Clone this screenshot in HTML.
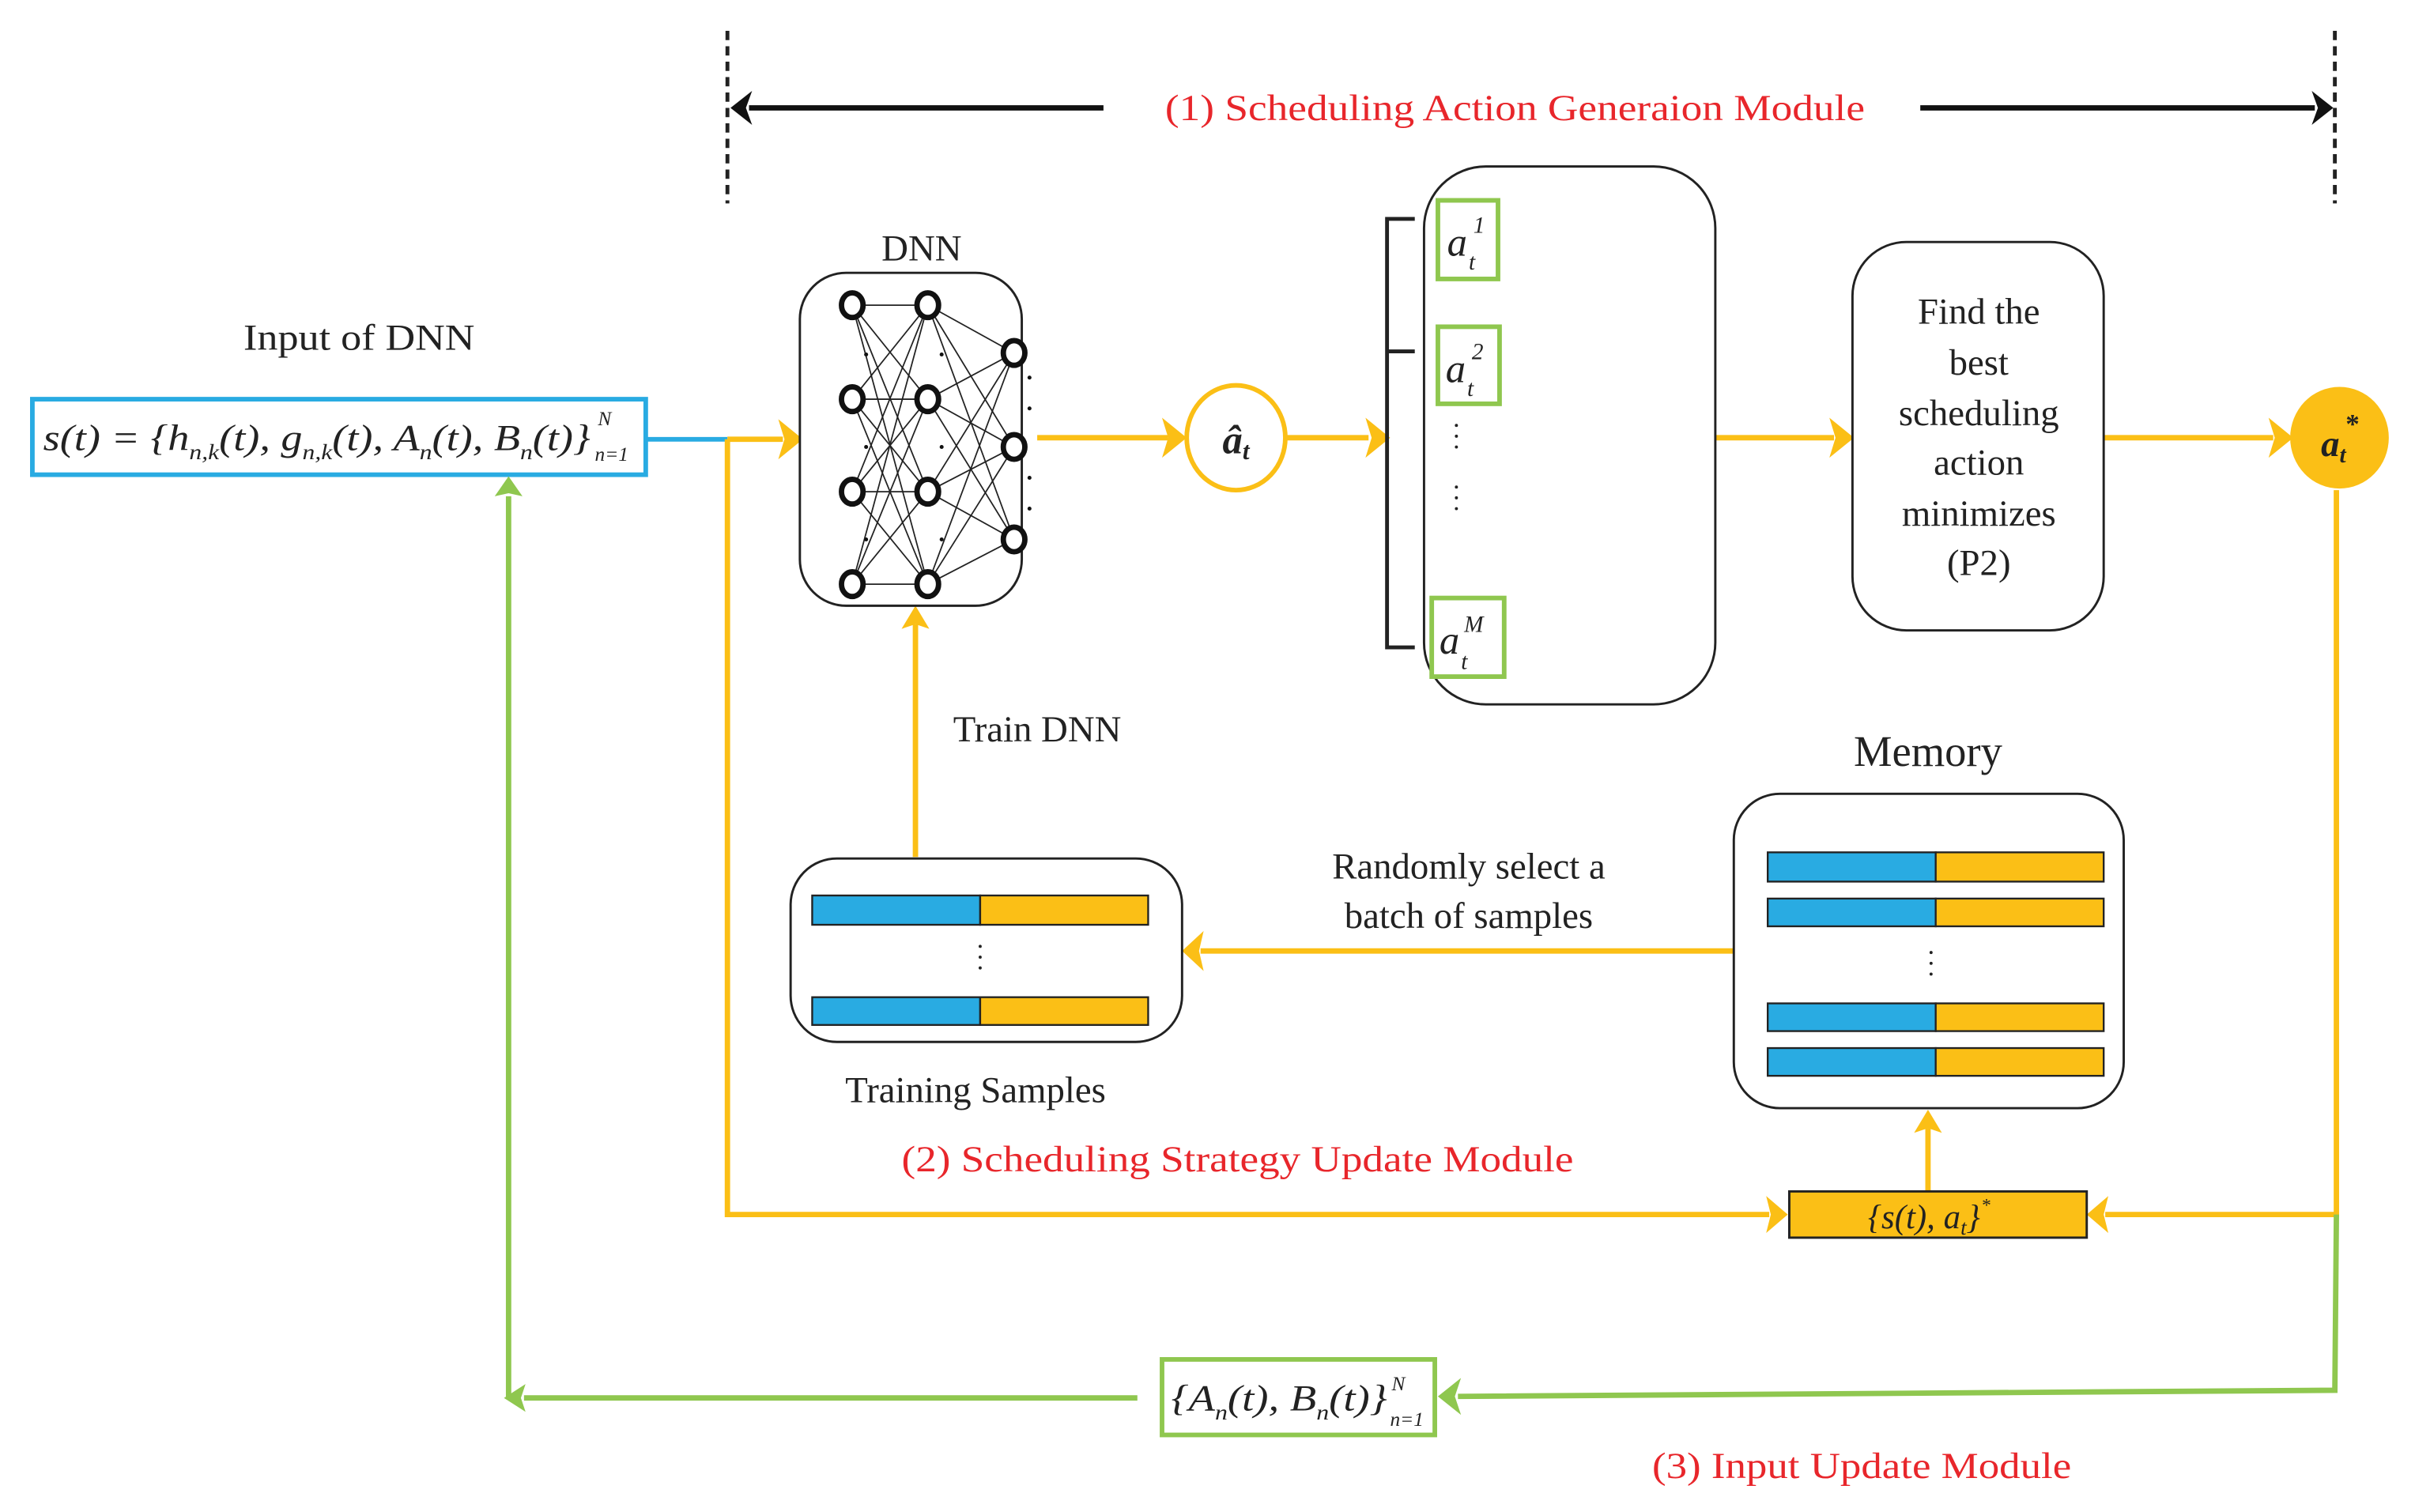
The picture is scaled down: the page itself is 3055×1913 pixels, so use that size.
<!DOCTYPE html>
<html><head><meta charset="utf-8"><style>
html,body{margin:0;padding:0;background:#fff;}
svg{display:block;}
text{font-family:"Liberation Serif",serif;}
</style></head><body>
<svg width="3055" height="1913" viewBox="0 0 1567 981" preserveAspectRatio="none" xmlns="http://www.w3.org/2000/svg">
<g fill="none" stroke="#222" stroke-width="2.5" stroke-dasharray="6,4">
<line x1="472" y1="20" x2="472" y2="132"/>
<line x1="1515" y1="20" x2="1515" y2="132"/>
</g>
<g stroke="#111" stroke-width="3.5">
<line x1="486" y1="70" x2="716" y2="70"/>
<line x1="1246" y1="70" x2="1502" y2="70"/>
</g>
<polygon points="474,70 488,59 484,70 488,81" fill="#111"/>
<polygon points="1514,70 1500,59 1504,70 1500,81" fill="#111"/>
<text x="983" y="78" font-size="24" fill="#e8262b" text-anchor="middle" textLength="454" lengthAdjust="spacingAndGlyphs">(1) Scheduling Action Generaion Module</text>

<text x="233" y="227" font-size="24" fill="#222" text-anchor="middle" textLength="150" lengthAdjust="spacingAndGlyphs">Input of DNN</text>
<rect x="21" y="259" width="398" height="49" fill="#fff" stroke="#29abe2" stroke-width="3"/>
<text x="28" y="292" font-size="24" fill="#222" font-style="italic" textLength="355" lengthAdjust="spacingAndGlyphs">s(t) = {h<tspan font-size="14" dy="6">n,k</tspan><tspan dy="-6">(t), g</tspan><tspan font-size="14" dy="6">n,k</tspan><tspan dy="-6">(t), A</tspan><tspan font-size="14" dy="6">n</tspan><tspan dy="-6">(t), B</tspan><tspan font-size="14" dy="6">n</tspan><tspan dy="-6">(t)}</tspan></text>
<text x="388" y="276" font-size="13" font-style="italic" fill="#222">N</text>
<text x="386" y="299" font-size="13" font-style="italic" fill="#222">n=1</text>
<line x1="420" y1="285" x2="472" y2="285" stroke="#29abe2" stroke-width="3"/>

<g stroke="#fbbf16" stroke-width="3.5" fill="none">
<line x1="472" y1="285" x2="508" y2="285"/>
<polyline points="472,285 472,788 1148,788"/>
<line x1="673" y1="284" x2="758" y2="284"/>
<line x1="835" y1="284" x2="888" y2="284"/>
<line x1="1113" y1="284" x2="1190" y2="284"/>
<line x1="1365" y1="284" x2="1475" y2="284"/>
<polyline points="1516,318 1516,788 1366,788"/>
<line x1="1251" y1="773" x2="1251" y2="732"/>
<line x1="1125" y1="617" x2="779" y2="617"/>
<line x1="594" y1="556" x2="594" y2="405"/>
</g>
<g fill="#fbbf16">
<polygon points="521,285 505,272 509,285 505,298"/>
<polygon points="770,284 754,271 758,284 754,297"/>
<polygon points="902,284 886,271 890,284 886,297"/>
<polygon points="1203,284 1187,271 1191,284 1187,297"/>
<polygon points="1488,284 1472,271 1476,284 1472,297"/>
<polygon points="1160,788 1146,776 1149,788 1146,800"/>
<polygon points="1354,788 1368,776 1365,788 1368,800"/>
<polygon points="1251,720 1242,735 1251,732 1260,735"/>
<polygon points="767,617 781,604 778,617 781,630"/>
<polygon points="594,393 585,408 594,405 603,408"/>
</g>

<g stroke="#8fc74f" stroke-width="3.5" fill="none">
<polyline points="1516,788 1515,902 946,906"/>
<line x1="738" y1="907" x2="340" y2="907"/>
<line x1="330" y1="907" x2="330" y2="322"/>
</g>
<g fill="#8fc74f">
<polygon points="933,906 948,894 944,906 948,918"/>
<polygon points="327,907 341,898 338,907 341,916"/>
<polygon points="330,309 321,322 330,320 339,322"/>
</g>
<rect x="754" y="882" width="177" height="49" fill="#fff" stroke="#8fc74f" stroke-width="3"/>
<text x="760" y="915" font-size="24" font-style="italic" fill="#222" textLength="140" lengthAdjust="spacingAndGlyphs">{A<tspan font-size="14" dy="6">n</tspan><tspan dy="-6">(t), B</tspan><tspan font-size="14" dy="6">n</tspan><tspan dy="-6">(t)}</tspan></text>
<text x="903" y="902" font-size="13" font-style="italic" fill="#222">N</text>
<text x="902" y="925" font-size="13" font-style="italic" fill="#222">n=1</text>

<text x="598" y="169" font-size="24" fill="#222" text-anchor="middle">DNN</text>
<rect x="519" y="177" width="144" height="216" rx="30" fill="#fff" stroke="#222" stroke-width="1.5"/>
<g stroke="#222" stroke-width="0.9">
<line x1="553" y1="198" x2="602" y2="198"/><line x1="553" y1="198" x2="602" y2="259"/><line x1="553" y1="198" x2="602" y2="319"/><line x1="553" y1="198" x2="602" y2="379"/>
<line x1="553" y1="259" x2="602" y2="198"/><line x1="553" y1="259" x2="602" y2="259"/><line x1="553" y1="259" x2="602" y2="319"/><line x1="553" y1="259" x2="602" y2="379"/>
<line x1="553" y1="319" x2="602" y2="198"/><line x1="553" y1="319" x2="602" y2="259"/><line x1="553" y1="319" x2="602" y2="319"/><line x1="553" y1="319" x2="602" y2="379"/>
<line x1="553" y1="379" x2="602" y2="198"/><line x1="553" y1="379" x2="602" y2="259"/><line x1="553" y1="379" x2="602" y2="319"/><line x1="553" y1="379" x2="602" y2="379"/>
<line x1="602" y1="198" x2="658" y2="229"/><line x1="602" y1="198" x2="658" y2="290"/><line x1="602" y1="198" x2="658" y2="350"/>
<line x1="602" y1="259" x2="658" y2="229"/><line x1="602" y1="259" x2="658" y2="290"/><line x1="602" y1="259" x2="658" y2="350"/>
<line x1="602" y1="319" x2="658" y2="229"/><line x1="602" y1="319" x2="658" y2="290"/><line x1="602" y1="319" x2="658" y2="350"/>
<line x1="602" y1="379" x2="658" y2="229"/><line x1="602" y1="379" x2="658" y2="290"/><line x1="602" y1="379" x2="658" y2="350"/>
</g>
<g fill="#fff" stroke="#111" stroke-width="3.5">
<ellipse cx="553" cy="198" rx="7" ry="8"/><ellipse cx="553" cy="259" rx="7" ry="8"/><ellipse cx="553" cy="319" rx="7" ry="8"/><ellipse cx="553" cy="379" rx="7" ry="8"/>
<ellipse cx="602" cy="198" rx="7" ry="8"/><ellipse cx="602" cy="259" rx="7" ry="8"/><ellipse cx="602" cy="319" rx="7" ry="8"/><ellipse cx="602" cy="379" rx="7" ry="8"/>
<ellipse cx="658" cy="229" rx="7" ry="8"/><ellipse cx="658" cy="290" rx="7" ry="8"/><ellipse cx="658" cy="350" rx="7" ry="8"/>
</g>
<g fill="#111">
<circle cx="562" cy="230" r="1.3"/><circle cx="562" cy="290" r="1.3"/><circle cx="562" cy="350" r="1.3"/>
<circle cx="611" cy="230" r="1.3"/><circle cx="611" cy="290" r="1.3"/><circle cx="611" cy="350" r="1.3"/>
<circle cx="668" cy="245" r="1.3"/><circle cx="668" cy="265" r="1.3"/><circle cx="668" cy="310" r="1.3"/><circle cx="668" cy="330" r="1.3"/>
</g>

<ellipse cx="802" cy="284" rx="32" ry="34" fill="#fff" stroke="#fbbf16" stroke-width="3"/>
<text x="802" y="294" font-size="26" font-style="italic" font-weight="bold" fill="#222" text-anchor="middle">â<tspan font-size="16" dy="4">t</tspan></text>

<rect x="924" y="108" width="189" height="349" rx="40" fill="#fff" stroke="#222" stroke-width="1.5"/>
<polyline points="918,142 900,142 900,420 918,420" fill="none" stroke="#222" stroke-width="2.5"/>
<line x1="900" y1="228" x2="918" y2="228" stroke="#222" stroke-width="2.5"/>
<g fill="#fff" stroke="#8fc74f" stroke-width="3">
<rect x="933" y="130" width="39" height="51"/>
<rect x="933" y="212" width="40" height="50"/>
<rect x="929" y="388" width="47" height="51"/>
</g>
<g font-style="italic" fill="#222">
<text x="939" y="166" font-size="26">a</text><text x="953" y="175" font-size="15">t</text><text x="956" y="151" font-size="15">1</text>
<text x="938" y="248" font-size="26">a</text><text x="952" y="257" font-size="15">t</text><text x="955" y="233" font-size="15">2</text>
<text x="934" y="424" font-size="26">a</text><text x="948" y="434" font-size="15">t</text><text x="950" y="410" font-size="15">M</text>
</g>
<g fill="#222"><circle cx="945" cy="276" r="1"/><circle cx="945" cy="283" r="1"/><circle cx="945" cy="290" r="1"/>
<circle cx="945" cy="316" r="1"/><circle cx="945" cy="323" r="1"/><circle cx="945" cy="330" r="1"/></g>

<rect x="1202" y="157" width="163" height="252" rx="35" fill="#fff" stroke="#222" stroke-width="1.5"/>
<g font-size="24" fill="#222" text-anchor="middle">
<text x="1284" y="210">Find the</text>
<text x="1284" y="243">best</text>
<text x="1284" y="276">scheduling</text>
<text x="1284" y="308">action</text>
<text x="1284" y="341">minimizes</text>
<text x="1284" y="373">(P2)</text>
</g>
<ellipse cx="1518" cy="284" rx="32" ry="33" fill="#fbbf16"/>
<text x="1506" y="296" font-size="24" font-style="italic" font-weight="bold" fill="#222">a<tspan font-size="15" dy="4">t</tspan></text>
<text x="1522" y="281" font-size="18" font-weight="bold" fill="#222">*</text>

<text x="673" y="481" font-size="24" fill="#222" text-anchor="middle">Train DNN</text>
<rect x="513" y="557" width="254" height="119" rx="30" fill="#fff" stroke="#222" stroke-width="1.5"/>
<g stroke="#222" stroke-width="1.2">
<rect x="527" y="581" width="109" height="19" fill="#29abe2"/><rect x="636" y="581" width="109" height="19" fill="#fbbf16"/>
<rect x="527" y="647" width="109" height="18" fill="#29abe2"/><rect x="636" y="647" width="109" height="18" fill="#fbbf16"/>
</g>
<g fill="#222"><circle cx="636" cy="614" r="1"/><circle cx="636" cy="621" r="1"/><circle cx="636" cy="628" r="1"/></g>
<text x="633" y="715" font-size="24" fill="#222" text-anchor="middle">Training Samples</text>

<text x="953" y="570" font-size="24" fill="#222" text-anchor="middle">Randomly select a</text>
<text x="953" y="602" font-size="24" fill="#222" text-anchor="middle">batch of samples</text>

<text x="1251" y="497" font-size="28" fill="#222" text-anchor="middle">Memory</text>
<rect x="1125" y="515" width="253" height="204" rx="30" fill="#fff" stroke="#222" stroke-width="1.5"/>
<g stroke="#222" stroke-width="1.2">
<rect x="1147" y="553" width="109" height="19" fill="#29abe2"/><rect x="1256" y="553" width="109" height="19" fill="#fbbf16"/>
<rect x="1147" y="583" width="109" height="18" fill="#29abe2"/><rect x="1256" y="583" width="109" height="18" fill="#fbbf16"/>
<rect x="1147" y="651" width="109" height="18" fill="#29abe2"/><rect x="1256" y="651" width="109" height="18" fill="#fbbf16"/>
<rect x="1147" y="680" width="109" height="18" fill="#29abe2"/><rect x="1256" y="680" width="109" height="18" fill="#fbbf16"/>
</g>
<g fill="#222"><circle cx="1253" cy="618" r="1"/><circle cx="1253" cy="625" r="1"/><circle cx="1253" cy="632" r="1"/></g>

<text x="803" y="760" font-size="24" fill="#e8262b" text-anchor="middle" textLength="436" lengthAdjust="spacingAndGlyphs">(2) Scheduling Strategy Update Module</text>
<rect x="1161" y="773" width="193" height="30" fill="#fbbf16" stroke="#222" stroke-width="1.5"/>
<text x="1212" y="797" font-size="22" font-style="italic" fill="#222">{s(t), a<tspan font-size="14" dy="4">t</tspan><tspan dy="-4">}</tspan></text>
<text x="1286" y="786" font-size="12" fill="#222">*</text>
<text x="1208" y="959" font-size="24" fill="#e8262b" text-anchor="middle" textLength="272" lengthAdjust="spacingAndGlyphs">(3) Input Update Module</text>
</svg>
</body></html>
